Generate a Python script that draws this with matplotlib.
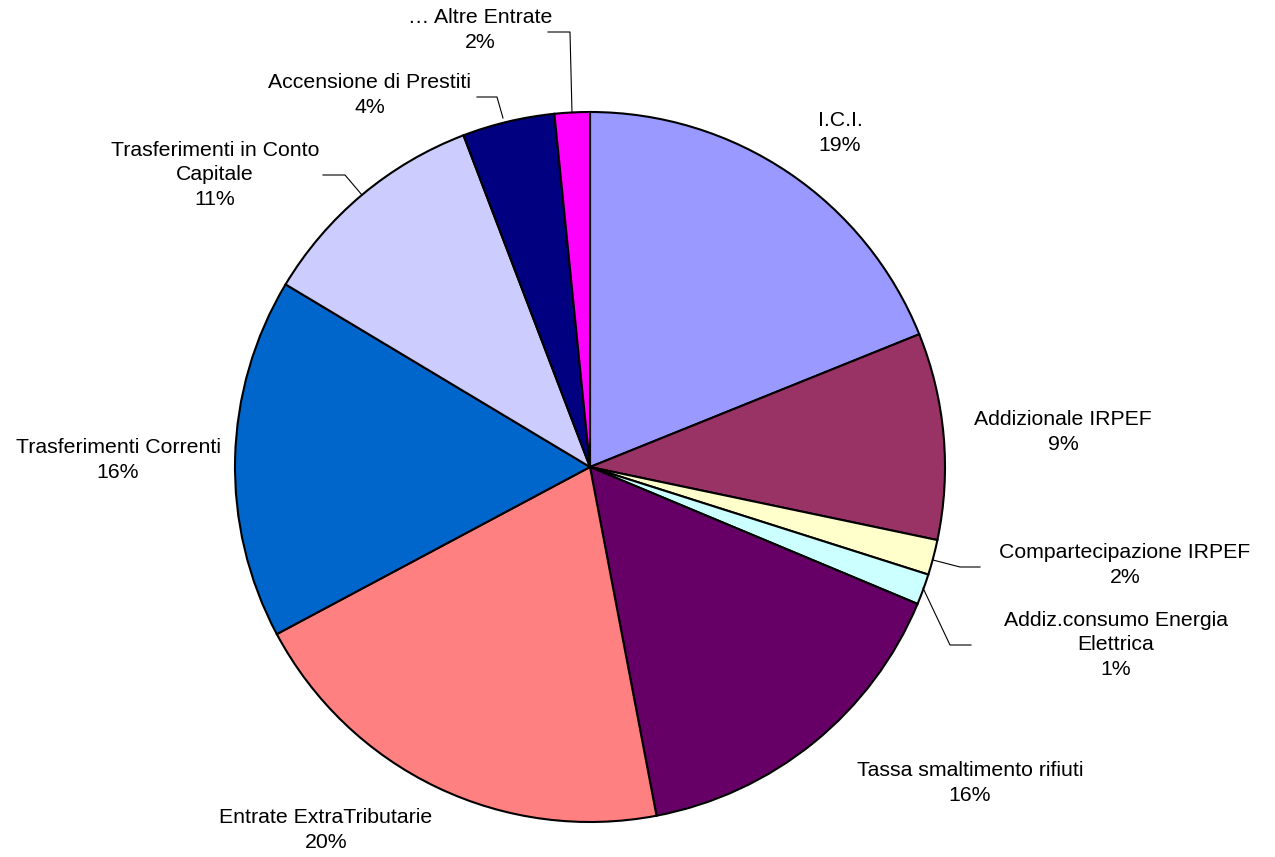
import matplotlib
matplotlib.use('Agg')
import matplotlib.pyplot as plt

plt.rcParams['font.family'] = ['Liberation Sans', 'DejaVu Sans']

labels = ['I.C.I.', 'Addizionale IRPEF', 'Compartecipazione IRPEF',
          'Addiz.consumo Energia\nElettrica', 'Tassa smaltimento rifiuti',
          'Entrate ExtraTributarie', 'Trasferimenti Correnti',
          'Trasferimenti in Conto\nCapitale', 'Accensione di Prestiti',
          '… Altre Entrate']
values = [18.9, 9.4, 1.6, 1.4, 15.7, 20.2, 16.4, 10.6, 4.2, 1.6]
colors = ['#9999FF', '#993366', '#FFFFCC', '#CCFFFF', '#660066',
          '#FF8080', '#0066CC', '#CCCCFF', '#000080', '#FF00FF']

W, H = 1275, 857
cx, cy, R = 590, 467, 355


def px(x, y):
    # pixel -> data coords (pie radius = 1)
    return (x - cx) / R, (cy - y) / R


fig = plt.figure(figsize=(W / 100, H / 100), dpi=100)
ax = fig.add_axes([0, 0, 1, 1])

wedges, _ = ax.pie(values, colors=colors, startangle=90, counterclock=False,
                   radius=1, wedgeprops=dict(edgecolor='black', linewidth=1.5))
ax.set_aspect('auto')
ax.set_xlim(-cx / R, (W - cx) / R)
ax.set_ylim(-(H - cy) / R, cy / R)
ax.axis('off')

# label centres in pixels
label_pos = [(840, 133), (1063, 432), (1125, 565), (1116, 645), (970, 783),
             (326, 830), (118, 460), (215, 175), (370, 95), (480, 30)]

total = sum(values)
for lab, v, (lx, ly) in zip(labels, values, label_pos):
    x, y = px(lx, ly)
    ax.text(x, y, f"{lab}\n{round(v / total * 100):.0f}%", ha='center',
            va='center', fontsize=15.3, linespacing=1.35)

# leader lines (pixel polylines)
leaders = [
    [(923, 588), (950, 645), (971, 645)],
    [(933, 560), (960, 567), (980, 567)],
    [(362, 195), (345, 175), (323, 175)],
    [(503, 118), (497, 97), (477, 97)],
    [(572, 113), (570, 32), (548, 32)],
]
for pts in leaders:
    xs, ys = zip(*[px(a, b) for a, b in pts])
    ax.plot(xs, ys, color='black', linewidth=0.8)

fig.savefig('out.png', dpi=100, facecolor='white')
